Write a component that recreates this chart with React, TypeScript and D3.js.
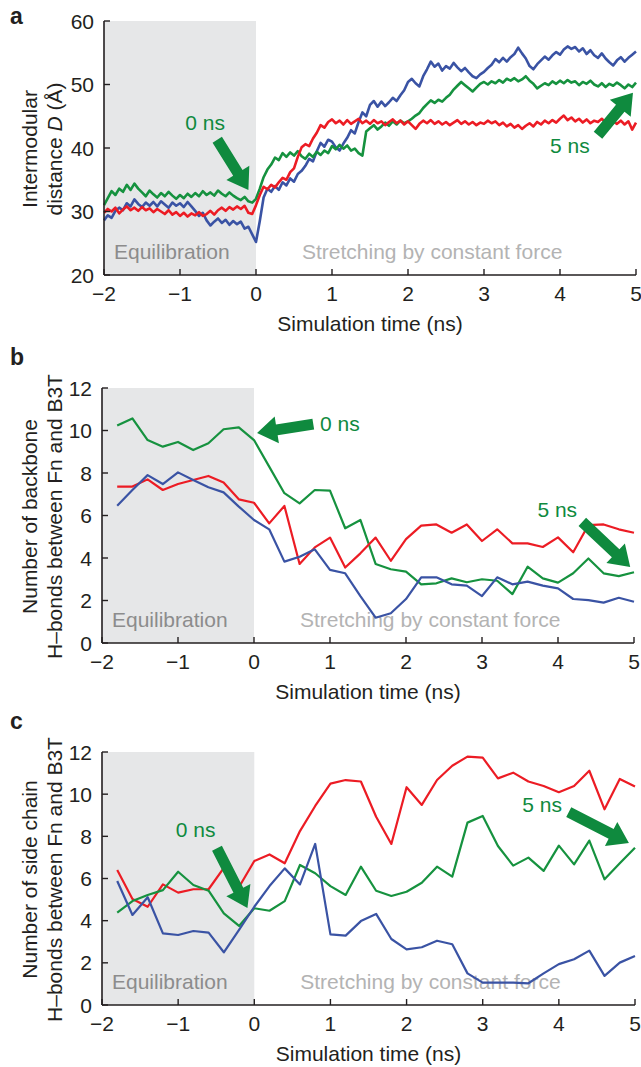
import * as d3 from 'd3';

// Panel a: intermodular distance, sampled every 0.05 ns from -2 to 5
const timeA = d3.range(141).map((i) => -2 + i * 0.05);

const distBlue = [
  28.6, 29.4, 29.0, 30.1, 30.6, 30.2, 31.3, 30.8, 31.9, 31.2,
  30.7, 31.4, 30.9, 31.5, 30.8, 31.6, 31.1, 30.6, 31.4, 30.9,
  31.3, 30.7, 31.5, 30.8, 30.1, 29.3, 29.8, 28.6, 27.8, 28.4,
  28.9, 28.2, 28.7, 27.9, 28.5, 28.0, 28.4, 27.3, 27.6, 26.4,
  25.2, 28.5, 32.2, 33.6, 33.1, 34.0, 33.4, 34.6, 34.1, 35.2,
  34.7, 35.9, 36.4, 37.2, 38.3, 37.9, 39.5, 40.8, 40.2, 41.3,
  41.0, 40.1, 39.6, 40.7, 41.6, 42.8, 42.3, 44.1, 45.6, 45.0,
  46.8, 47.4, 46.5, 47.3, 46.6, 47.2, 47.9, 47.4, 48.3, 49.1,
  50.4, 50.9, 50.2, 49.7, 51.3, 52.4, 53.6, 52.8, 53.3, 52.2,
  52.9, 52.5, 53.4, 52.7, 52.1, 52.6, 51.9, 51.3, 51.0, 51.6,
  52.0, 52.6, 53.1, 54.0, 53.5, 54.2, 53.6, 54.3, 54.8, 55.8,
  54.9, 54.1, 52.9, 52.4, 53.2, 53.8, 54.4, 53.9, 54.6, 55.1,
  54.7, 55.5, 56.0, 55.6, 55.9, 55.2, 55.7, 54.8, 55.4, 54.6,
  54.2, 54.9, 54.1, 53.5, 53.0, 53.8, 54.3, 53.6, 54.2, 54.7,
  55.2,
];

const distGreen = [
  31.0, 32.1, 33.2, 32.6, 33.6, 33.1, 34.2, 33.4, 34.4, 33.6,
  33.0, 32.4, 33.3, 32.7, 32.2, 32.9, 32.4, 33.1, 32.5, 32.0,
  32.6, 32.1, 32.8, 32.3, 32.9, 32.4, 33.2, 32.6, 33.0, 32.5,
  33.3, 32.8, 32.4, 33.0, 32.5, 32.1, 31.8, 32.3, 31.6, 31.4,
  32.0, 33.6, 35.4, 36.6, 37.4, 38.5, 38.1, 39.2, 38.6, 39.3,
  38.8, 39.5, 38.7, 38.3, 39.1, 38.6, 39.4, 38.9, 39.6, 39.2,
  40.3, 39.8, 40.5, 39.9, 40.4, 39.6, 39.9, 39.2, 38.8, 42.6,
  43.1, 43.6, 42.9, 43.4, 44.0, 43.5, 44.2, 43.7, 44.3, 43.9,
  44.2, 44.6, 45.1, 45.5, 46.3, 46.9, 47.5, 47.1, 47.6, 47.3,
  47.9, 48.4, 49.2, 49.8, 50.4, 49.9, 49.4, 48.9, 49.5, 50.1,
  50.4, 50.0, 50.5, 50.2, 50.7, 50.3, 50.9, 50.6, 51.0, 50.5,
  50.8, 51.3, 50.6, 50.1, 49.4, 49.8, 50.2, 49.9, 50.5, 50.1,
  50.6, 50.2, 50.7, 50.3, 50.5, 49.9, 50.4, 50.1, 50.6, 50.0,
  49.7, 50.2, 49.6, 50.1, 49.8, 50.3, 49.9, 49.4, 50.0, 49.6,
  50.3,
];

const distRed = [
  29.8, 30.4, 30.0, 30.6, 29.7, 30.3, 30.8, 30.2, 30.6, 30.1,
  30.7, 30.2, 30.5, 29.9, 30.4, 30.0, 29.6, 30.2, 29.5, 29.9,
  29.3, 29.8, 29.2, 29.7, 29.4, 29.9, 29.3, 29.6, 30.1, 29.5,
  30.2, 30.6, 30.1, 30.7, 30.3, 30.8, 30.4, 30.9, 29.8, 29.6,
  31.0, 32.6, 33.9, 33.5, 34.2, 33.8, 34.6, 35.3, 35.0, 36.2,
  36.8, 38.6, 40.1, 40.6, 40.3, 41.5, 42.4, 43.6, 43.2, 44.1,
  44.5, 43.9, 44.3, 43.7, 44.4, 43.8, 44.2, 44.6, 43.9, 44.3,
  43.8, 44.4, 43.9, 44.2, 43.6, 44.1, 44.5, 43.9, 44.3, 43.7,
  44.2, 43.6, 43.0, 43.8, 44.3, 43.9, 44.4, 43.8, 44.2, 43.7,
  44.1, 43.6, 44.0, 44.4, 43.8, 44.2, 43.7, 44.1, 43.6, 44.0,
  43.8, 44.3, 43.9, 44.2, 43.6, 44.0, 43.4, 43.8, 43.2, 43.6,
  43.0, 43.5, 43.9, 43.4, 44.1, 43.7, 44.3, 43.9, 44.4, 44.0,
  44.6, 45.1, 44.4, 44.8, 44.2, 44.6, 44.0, 44.5, 43.9, 44.3,
  44.1, 44.6, 44.0, 44.5, 44.2, 43.8, 44.3, 43.7, 44.2, 42.9,
  44.0,
];

// Panels b and c: sampled every 0.2 ns from -1.8 to 5
const timeB = d3.range(35).map((i) => -1.8 + i * 0.2);

const backboneGreen = [
  10.23, 10.57, 9.55, 9.24, 9.46, 9.08, 9.4, 10.06, 10.15, 9.55,
  8.3, 7.05, 6.57, 7.2, 7.17, 5.4, 5.79, 3.72, 3.47, 3.36,
  2.76, 2.81, 3.04, 2.86, 3.0, 2.93, 2.3, 3.59, 3.04, 2.84,
  3.28, 3.98, 3.28, 3.15, 3.33,
];
const backboneRed = [
  7.36, 7.36, 7.7, 7.2, 7.48, 7.67, 7.86, 7.55, 6.76, 6.6,
  5.63, 6.45, 3.72, 4.5, 4.96, 3.55, 4.22, 4.96, 3.87, 4.89,
  5.52, 5.58, 5.19, 5.58, 4.8, 5.35, 4.69, 4.69, 4.52, 4.97,
  4.27, 5.55, 5.58, 5.35, 5.19,
];
const backboneBlue = [
  6.46, 7.2, 7.9, 7.48, 8.03, 7.67, 7.33, 7.09, 6.42, 5.79,
  5.35, 3.83, 4.06, 4.41, 3.44, 3.28, 2.21, 1.19, 1.4, 2.07,
  3.09, 3.09, 2.76, 2.7, 2.21, 3.09, 2.76, 2.89, 2.7, 2.57,
  2.07, 2.02, 1.9, 2.13, 1.94,
];

const sideRed = [
  6.4, 5.03, 4.66, 5.72, 5.33, 5.49, 5.49, 6.5, 5.6, 6.83,
  7.14, 6.72, 8.25, 9.44, 10.5, 10.67, 10.6, 8.93, 7.64, 10.33,
  9.49, 10.67, 11.35, 11.78, 11.73, 10.75, 11.02, 10.6, 10.39, 10.09,
  10.39, 11.11, 9.28, 10.72, 10.36,
];
const sideGreen = [
  4.38, 4.93, 5.22, 5.45, 6.32, 5.69, 5.42, 4.35, 3.75, 4.59,
  4.47, 4.93, 6.64, 6.25, 5.64, 5.22, 6.56, 5.42, 5.17, 5.37,
  5.8, 6.56, 6.09, 8.65, 8.97, 7.54, 6.61, 6.99, 6.36, 7.56,
  6.67, 7.8, 5.96, 6.72, 7.46,
];
const sideBlue = [
  5.88, 4.27, 5.11, 3.4, 3.32, 3.51, 3.43, 2.5, 3.56, 4.66,
  5.64, 6.48, 5.72, 7.64, 3.35, 3.29, 3.98, 4.32, 3.13, 2.64,
  2.74, 3.05, 2.88, 1.5, 1.06, 1.06, 1.06, 1.03, 1.5, 1.94,
  2.17, 2.58, 1.38, 2.01, 2.32,
];

const xTicks = [-2, -1, 0, 1, 2, 3, 4, 5];
const ticksA = [20, 30, 40, 50, 60];
const ticksHB = [0, 2, 4, 6, 8, 10, 12];

const RED = '#ec1c24';
const GREEN = '#16923f';
const BLUE = '#3a53a4';
const ARROW = '#0f8a3e';
const FONT = '"Liberation Sans", Arial, Helvetica, sans-serif';
const FS = 21;

type Series = { t: number[]; v: number[]; color: string };
type Arrow = { from: [number, number]; to: [number, number]; label: string; at: [number, number]; anchor: string };

interface PanelProps {
  letter: string;
  box: { left: number; right: number; top: number; bottom: number };
  yDomain: [number, number];
  yTicks: number[];
  series: Series[];
  yLabel: React.ReactNode[];
  arrows: Arrow[];
  strokeWidth: number;
}

function arrowPath(x1: number, y1: number, x2: number, y2: number) {
  const w = 11;
  const hw = 27;
  const hl = 20;
  const dx = x2 - x1;
  const dy = y2 - y1;
  const len = Math.hypot(dx, dy);
  const ux = dx / len;
  const uy = dy / len;
  const nx = -uy;
  const ny = ux;
  const bx = x2 - ux * hl;
  const by = y2 - uy * hl;
  const pts = [
    [x1 + (nx * w) / 2, y1 + (ny * w) / 2],
    [bx + (nx * w) / 2, by + (ny * w) / 2],
    [bx + (nx * hw) / 2, by + (ny * hw) / 2],
    [x2, y2],
    [bx - (nx * hw) / 2, by - (ny * hw) / 2],
    [bx - (nx * w) / 2, by - (ny * w) / 2],
    [x1 - (nx * w) / 2, y1 - (ny * w) / 2],
  ];
  return 'M' + pts.map((p) => p.join(',')).join('L') + 'Z';
}

function Panel({ letter, box, yDomain, yTicks, series, yLabel, arrows, strokeWidth }: PanelProps) {
  const x = d3.scaleLinear().domain([-2, 5]).range([box.left, box.right]);
  const y = d3.scaleLinear().domain(yDomain).range([box.bottom, box.top]);
  const line = d3
    .line<[number, number]>()
    .x((d) => x(d[0]))
    .y((d) => y(d[1]));
  const midY = (box.top + box.bottom) / 2;
  const midX = (box.left + box.right) / 2;

  return (
    <g>
      {/* equilibration shading */}
      <rect x={x(-2)} y={box.top} width={x(0) - x(-2)} height={box.bottom - box.top} fill="#e6e7e8" />
      <text x={box.left + 10} y={box.bottom - 16} fontSize={FS} fill="#8c8c8c">Equilibration</text>
      <text x={x(0) + 46} y={box.bottom - 16} fontSize={FS} fill="#b3b3b3">Stretching by constant force</text>

      {series.map((s, i) => (
        <path
          key={i}
          d={line(s.v.map((v, j) => [s.t[j], v] as [number, number])) || ''}
          fill="none"
          stroke={s.color}
          strokeWidth={strokeWidth}
          strokeLinejoin="round"
        />
      ))}

      {arrows.map((a, i) => (
        <g key={i}>
          <path d={arrowPath(x(a.from[0]), y(a.from[1]), x(a.to[0]), y(a.to[1]))} fill={ARROW} />
          <text x={x(a.at[0])} y={y(a.at[1])} fontSize={FS} fill={ARROW} textAnchor={a.anchor}>
            {a.label}
          </text>
        </g>
      ))}

      {/* axes */}
      <line x1={box.left} x2={box.left} y1={box.top} y2={box.bottom} stroke="#231f20" strokeWidth={1.6} />
      <line x1={box.left} x2={box.right} y1={box.bottom} y2={box.bottom} stroke="#231f20" strokeWidth={1.6} />
      {xTicks.map((t) => (
        <g key={t}>
          <line x1={x(t)} x2={x(t)} y1={box.bottom} y2={box.bottom - 6} stroke="#231f20" strokeWidth={1.4} />
          <text x={x(t)} y={box.bottom + 26} fontSize={FS} textAnchor="middle" fill="#231f20">
            {t < 0 ? '\u2212' + Math.abs(t) : t}
          </text>
        </g>
      ))}
      {yTicks.map((v) => (
        <g key={v}>
          <line x1={box.left} x2={box.left + 6} y1={y(v)} y2={y(v)} stroke="#231f20" strokeWidth={1.4} />
          <text x={box.left - 10} y={y(v) + 7.5} fontSize={FS} textAnchor="end" fill="#231f20">
            {v}
          </text>
        </g>
      ))}
      <text x={midX} y={box.bottom + 56} fontSize={FS} textAnchor="middle" fill="#231f20">
        Simulation time (ns)
      </text>
      {yLabel.map((l, i) => (
        <text
          key={i}
          transform={`translate(${37 + i * 25},${midY + 1}) rotate(-90)`}
          fontSize={FS}
          textAnchor="middle"
          fill="#231f20"
        >
          {l}
        </text>
      ))}
      <text x={10} y={box.top - (letter === 'a' ? -3 : 23)} fontSize={23} fontWeight="bold" fill="#231f20">
        {letter}
      </text>
    </g>
  );
}

export default function App() {
  return (
    <svg
      width={641}
      height={1067}
      style={{ position: 'absolute', left: 0, top: 0, background: '#fff', fontFamily: FONT }}
    >
      <Panel
        letter="a"
        box={{ left: 104, right: 636, top: 21, bottom: 275 }}
        yDomain={[20, 60]}
        yTicks={ticksA}
        strokeWidth={2.6}
        series={[
          { t: timeA, v: distBlue, color: BLUE },
          { t: timeA, v: distGreen, color: GREEN },
          { t: timeA, v: distRed, color: RED },
        ]}
        yLabel={[
          'Intermodular',
          <>
            distance <tspan fontStyle="italic">D</tspan> (Å)
          </>,
        ]}
        arrows={[
          { from: [-0.51, 41.3], to: [-0.1, 33.4], label: '0 ns', at: [-0.67, 42.8], anchor: 'middle' },
          { from: [4.5, 42.0], to: [4.96, 48.7], label: '5 ns', at: [4.13, 39.2], anchor: 'middle' },
        ]}
      />
      <Panel
        letter="b"
        box={{ left: 102, right: 634, top: 388, bottom: 643 }}
        yDomain={[0, 12]}
        yTicks={ticksHB}
        strokeWidth={2.2}
        series={[
          { t: timeB, v: backboneGreen, color: GREEN },
          { t: timeB, v: backboneRed, color: RED },
          { t: timeB, v: backboneBlue, color: BLUE },
        ]}
        yLabel={['Number of backbone', 'H\u2013bonds between Fn and B3T']}
        arrows={[
          { from: [0.78, 10.3], to: [0.04, 9.88], label: '0 ns', at: [0.87, 10.0], anchor: 'start' },
          { from: [4.32, 5.7], to: [4.95, 3.58], label: '5 ns', at: [3.99, 5.93], anchor: 'middle' },
        ]}
      />
      <Panel
        letter="c"
        box={{ left: 102, right: 635, top: 752, bottom: 1005 }}
        yDomain={[0, 12]}
        yTicks={ticksHB}
        strokeWidth={2.2}
        series={[
          { t: timeB, v: sideRed, color: RED },
          { t: timeB, v: sideGreen, color: GREEN },
          { t: timeB, v: sideBlue, color: BLUE },
        ]}
        yLabel={['Number of side chain', 'H\u2013bonds between Fn and B3T']}
        arrows={[
          { from: [-0.49, 7.44], to: [-0.09, 4.6], label: '0 ns', at: [-0.77, 7.96], anchor: 'middle' },
          { from: [4.13, 9.15], to: [4.92, 7.68], label: '5 ns', at: [3.78, 9.15], anchor: 'middle' },
        ]}
      />
    </svg>
  );
}
